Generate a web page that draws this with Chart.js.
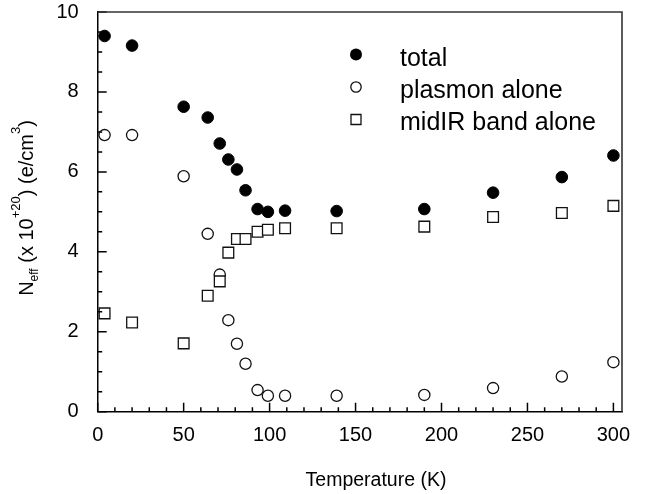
<!DOCTYPE html>
<html>
<head>
<meta charset="utf-8">
<script src="https://cdn.jsdelivr.net/npm/chart.js@4.4.1/dist/chart.umd.min.js"></script>
<style>
    html, body { margin: 0; padding: 0; background: #fff; }
    #wrap { width: 654px; height: 494px; position: relative; }
</style>
</head>
<body>
<div id="wrap"><canvas id="neffChart"></canvas></div>
<script>
// Temperature (K) of each measurement
const temps = [4, 20, 50, 64, 71, 76, 81, 86, 93, 99, 109, 139, 190, 230, 270, 300];
// N_eff values (x 10^20 e/cm^3)
const totalVals = [9.40, 9.16, 7.63, 7.36, 6.71, 6.31, 6.06, 5.54, 5.07, 5.00, 5.03, 5.02, 5.07, 5.48, 5.87, 6.41];
const plasmonVals = [6.92, 6.92, 5.89, 4.45, 3.43, 2.29, 1.70, 1.20, 0.54, 0.40, 0.40, 0.40, 0.42, 0.59, 0.88, 1.24];
const midIRVals = [2.46, 2.23, 1.71, 2.90, 3.26, 3.98, 4.32, 4.32, 4.50, 4.55, 4.59, 4.59, 4.63, 4.87, 4.97, 5.15];

const seriesLabels = ['total', 'plasmon alone', 'midIR band alone'];
const xTickVals = [0, 50, 100, 150, 200, 250, 300];
const yTickVals = [0, 2, 4, 6, 8, 10];
const xTitle = 'Temperature (K)';

const FONT = '"Liberation Sans", Arial, Helvetica, sans-serif';
const INK = '#111';

function toPoints(values) {
    return temps.map((t, i) => ({ x: t, y: values[i] }));
}

function drawFrame(chart) {
    const ctx = chart.ctx;
    const a = chart.chartArea;
    const x = chart.scales.x, y = chart.scales.y;
    ctx.save();
    // inward ticks: minor every 10 K / 0.5, major on labelled values
    ctx.strokeStyle = '#000';
    ctx.lineWidth = 1.5;
    ctx.beginPath();
    for (let t = 0; t <= 300; t += 10) {
        const px = x.getPixelForValue(t);
        const len = t % 50 === 0 ? 9 : 4.5;
        ctx.moveTo(px, a.bottom);
        ctx.lineTo(px, a.bottom - len);
    }
    for (let v = 0; v <= 10; v += 0.5) {
        const py = y.getPixelForValue(v);
        const len = v % 2 === 0 ? 9 : 4.5;
        ctx.moveTo(a.left, py);
        ctx.lineTo(a.left + len, py);
    }
    ctx.stroke();

    // top and right frame
    ctx.strokeStyle = '#333';
    ctx.lineWidth = 1.6;
    ctx.beginPath();
    ctx.moveTo(a.left, a.top);
    ctx.lineTo(a.right, a.top);
    ctx.lineTo(a.right, a.bottom);
    ctx.stroke();
    ctx.restore();
}

function drawTitles(chart) {
    const ctx = chart.ctx;
    ctx.save();
    ctx.fillStyle = '#000';

    ctx.font = `19.5px ${FONT}`;
    ctx.textAlign = 'center';
    ctx.textBaseline = 'alphabetic';
    ctx.fillText(xTitle, 376, 486);

    // y axis title with sub/superscripts
    const parts = [
        { t: 'N', size: 20, dy: 0 },
        { t: 'eff', size: 12, dy: 5 },
        { t: ' (x 10', size: 20, dy: 0 },
        { t: '+20', size: 13, dy: -13 },
        { t: ') (e/cm', size: 20, dy: 0 },
        { t: '3', size: 13, dy: -13 },
        { t: ')', size: 20, dy: 0 }
    ];
    let total = 0;
    parts.forEach(p => {
        ctx.font = `${p.size}px ${FONT}`;
        p.w = ctx.measureText(p.t).width;
        total += p.w;
    });
    ctx.translate(33, 208);
    ctx.rotate(-Math.PI / 2);
    ctx.textAlign = 'left';
    let cx = -total / 2;
    parts.forEach(p => {
        ctx.font = `${p.size}px ${FONT}`;
        ctx.fillText(p.t, cx, p.dy);
        cx += p.w;
    });
    ctx.restore();
}

function drawLegend(chart) {
    const ctx = chart.ctx;
    const mx = 356, tx = 400;
    const rows = [54.5, 87, 119.5];
    ctx.save();
    ctx.lineWidth = 1.3;
    ctx.strokeStyle = INK;
    ctx.beginPath();
    ctx.arc(mx, rows[0], 6, 0, Math.PI * 2);
    ctx.fillStyle = '#000';
    ctx.fill();
    ctx.beginPath();
    ctx.arc(mx, rows[1], 5.2, 0, Math.PI * 2);
    ctx.fillStyle = '#fff';
    ctx.fill();
    ctx.stroke();
    ctx.beginPath();
    ctx.rect(mx - 5, rows[2] - 5, 10, 10);
    ctx.fill();
    ctx.stroke();

    ctx.fillStyle = '#000';
    ctx.font = `25px ${FONT}`;
    ctx.textAlign = 'left';
    ctx.textBaseline = 'alphabetic';
    ctx.fillText(seriesLabels[0], tx, 65.5);
    ctx.fillText(seriesLabels[1], tx, 97.5);
    ctx.fillText(seriesLabels[2], tx, 129.5);
    ctx.restore();
}

const decorations = {
    id: 'decorations',
    afterDraw(chart) {
        drawFrame(chart);
        drawTitles(chart);
        drawLegend(chart);
    }
};

const ctx = document.getElementById('neffChart').getContext('2d');
const chart = new Chart(ctx, {
    type: 'scatter',
    data: {
        datasets: [
            {
                label: seriesLabels[0],
                data: toPoints(totalVals),
                pointStyle: 'circle',
                pointRadius: 5.8,
                backgroundColor: '#000',
                borderColor: '#000',
                borderWidth: 1,
                order: 2
            },
            {
                label: seriesLabels[1],
                data: toPoints(plasmonVals),
                pointStyle: 'circle',
                pointRadius: 5.6,
                backgroundColor: '#fff',
                borderColor: INK,
                borderWidth: 1.3,
                order: 1
            },
            {
                label: seriesLabels[2],
                data: toPoints(midIRVals),
                pointStyle: 'rect',
                pointRadius: 7.6,
                backgroundColor: '#fff',
                borderColor: INK,
                borderWidth: 1.3,
                order: 0
            }
        ]
    },
    options: {
        responsive: true,
        maintainAspectRatio: false,
        animation: false,
        layout: {
            padding: { top: 12, right: 32, left: 0, bottom: 0 }
        },
        plugins: {
            legend: { display: false },
            tooltip: { enabled: false }
        },
        scales: {
            x: {
                type: 'linear',
                min: 0,
                max: 305,
                grid: { display: false },
                border: { display: true, color: '#000', width: 1.5 },
                ticks: {
                    padding: 4,
                    color: '#000',
                    maxRotation: 0,
                    autoSkip: false,
                    font: { family: FONT, size: 20 }
                },
                afterBuildTicks: (scale) => {
                    scale.ticks = xTickVals.map(v => ({ value: v }));
                },
                afterFit: (scale) => {
                    scale.height = 82.3;
                    scale.paddingLeft = 0;
                    scale.paddingRight = 0;
                }
            },
            y: {
                type: 'linear',
                min: 0,
                max: 10,
                grid: { display: false },
                border: { display: true, color: '#000', width: 1.5 },
                ticks: {
                    padding: 11,
                    color: '#000',
                    autoSkip: false,
                    font: { family: FONT, size: 20 }
                },
                afterBuildTicks: (scale) => {
                    scale.ticks = yTickVals.map(v => ({ value: v }));
                },
                afterFit: (scale) => {
                    scale.width = 97.7;
                    scale.paddingTop = 0;
                    scale.paddingBottom = 0;
                }
            }
        }
    },
    plugins: [decorations]
});
</script>
</body>
</html>
